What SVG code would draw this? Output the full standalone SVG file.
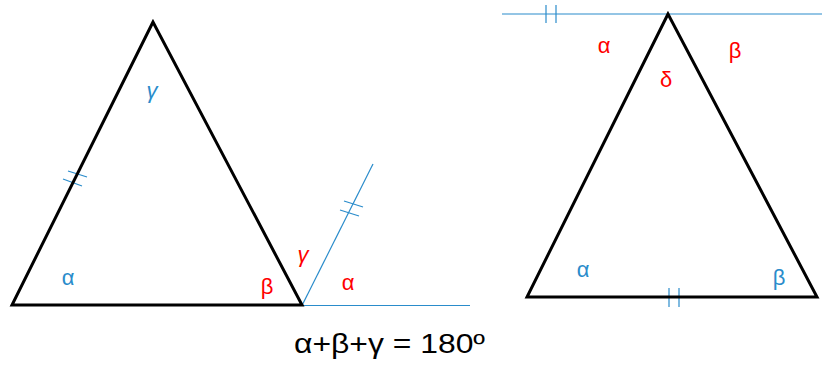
<svg xmlns="http://www.w3.org/2000/svg" width="822" height="365" viewBox="0 0 822 365">
<style>
.tri{fill:none;stroke:#000;stroke-width:3;stroke-linejoin:miter}
.aux{fill:none;stroke:#2A8CCB;stroke-width:1.2}
.lbl{font-family:"Liberation Sans",Arial,sans-serif;font-size:22px;text-anchor:middle}
.red{fill:#FF0000}
.blue{fill:#2A8CCB}
.eq{font-family:"Liberation Sans",Arial,sans-serif;font-size:28px;fill:#000}
</style>
<rect width="822" height="365" fill="#fff"/>
<g id="connectors">
<line class="aux" x1="302" y1="305.5" x2="373" y2="164"/>
<line class="aux" x1="302" y1="305.5" x2="470" y2="305.5"/>
<line class="aux" x1="344" y1="201" x2="363" y2="207"/>
<line class="aux" x1="340" y1="210" x2="359" y2="216"/>
<line class="aux" x1="68" y1="171" x2="87" y2="177"/>
<line class="aux" x1="63" y1="179" x2="82" y2="186"/>
<line class="aux" x1="502" y1="14" x2="822" y2="14"/>
<line class="aux" x1="546" y1="5" x2="546" y2="23"/>
<line class="aux" x1="556" y1="5" x2="556" y2="23"/>
<line class="aux" x1="669" y1="288" x2="669" y2="307"/>
<line class="aux" x1="679" y1="288" x2="679" y2="307"/>
</g>
<g id="triangle-left">
<polygon class="tri" points="153,22 12,305 302,305"/>
<text class="lbl blue" x="152" y="98" font-style="italic">γ</text>
<text class="lbl blue" x="68" y="285">α</text>
<text class="lbl red" x="267" y="294">β</text>
<text class="lbl red" x="303" y="262" font-style="italic">γ</text>
<text class="lbl red" x="348" y="290">α</text>
</g>
<g id="triangle-right">
<polygon class="tri" points="668,14 527,297 817,297"/>
<text class="lbl red" x="604" y="53">α</text>
<text class="lbl red" x="735" y="58">β</text>
<text class="lbl red" x="666" y="87">δ</text>
<text class="lbl blue" x="583" y="277">α</text>
<text class="lbl blue" x="779" y="285">β</text>
</g>
<g id="equation">
<text class="eq" x="294" y="353" textLength="191" lengthAdjust="spacingAndGlyphs">α+β+γ = 180º</text>
</g>
</svg>
